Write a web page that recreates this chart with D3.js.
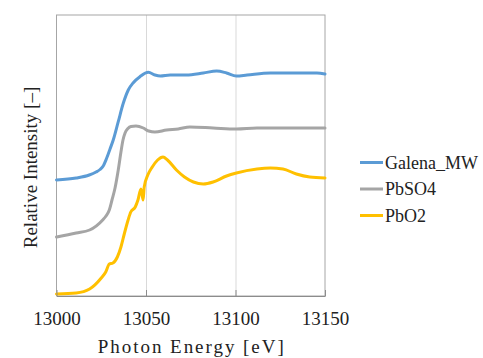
<!DOCTYPE html>
<html>
<head>
<meta charset="utf-8">
<script src="https://cdn.jsdelivr.net/npm/d3@7"></script>
<style>
  body { margin: 0; background: #fff; }
</style>
</head>
<body>
<svg id="chart" width="483" height="358"></svg>
<script>
// DATA (energy in eV, relative intensity arbitrary units)
var galenaEnergy = [13000, 13011, 13018.3, 13022.1, 13024.3, 13026.1, 13028, 13029.9, 13031.7, 13034.5, 13037.3, 13040.1, 13042.9, 13046.6, 13051.3, 13055, 13058, 13063.5, 13072.5, 13082, 13089.5, 13095, 13100.5, 13106.5, 13119.5, 13134, 13145.5, 13150];
var galenaIntensity = [1.16, 1.18, 1.21, 1.24, 1.265, 1.3, 1.377, 1.47, 1.56, 1.743, 1.927, 2.06, 2.133, 2.193, 2.237, 2.21, 2.2, 2.21, 2.21, 2.23, 2.25, 2.23, 2.2, 2.21, 2.23, 2.23, 2.23, 2.22];

var pbso4Energy = [13000, 13011, 13018.5, 13025.8, 13027.65, 13029.5, 13031, 13032.7, 13034.5, 13036, 13037.15, 13038.3, 13039.9, 13041.6, 13044.4, 13048.5, 13051.5, 13055, 13061.5, 13068, 13074.5, 13087.5, 13100.5, 13112, 13125, 13138, 13150];
var pbso4Intensity = [0.59, 0.63, 0.66, 0.76, 0.8, 0.86, 0.96, 1.08, 1.26, 1.44, 1.56, 1.63, 1.675, 1.695, 1.7, 1.68, 1.65, 1.64, 1.66, 1.67, 1.69, 1.68, 1.67, 1.68, 1.68, 1.68, 1.68];

var pbo2Energy = [13000, 13011, 13018.5, 13025, 13027.5, 13029.5, 13031.5, 13034, 13036, 13038, 13040, 13041.5, 13044, 13045.5, 13047.2, 13048.4, 13049, 13051, 13053.5, 13056.5, 13059.5, 13062, 13067, 13071.5, 13076.5, 13082, 13087.5, 13095, 13100.5, 13112, 13119.5, 13126.5, 13134, 13141.5, 13150];
var pbo2Intensity = [0.02, 0.03, 0.07, 0.18, 0.24, 0.32, 0.33, 0.39, 0.49, 0.63, 0.76, 0.84, 0.89, 0.96, 1.07, 0.96, 1.09, 1.21, 1.29, 1.36, 1.39, 1.36, 1.26, 1.19, 1.14, 1.12, 1.14, 1.2, 1.23, 1.27, 1.28, 1.27, 1.22, 1.19, 1.18];

var seriesNames = ["Galena_MW", "PbSO4", "PbO2"];
var seriesColors = ["#5b9bd5", "#a5a5a5", "#ffc000"];
var xTicks = [13000, 13050, 13100, 13150];

var serif = "'Liberation Serif', 'DejaVu Serif', serif";

var svg = d3.select("#chart");

// PLOT AREA
var plotLeft = 56.5, plotRight = 325, plotTop = 15, plotBottom = 296;

var x = d3.scaleLinear().domain([13000, 13150]).range([plotLeft, plotRight]);
var y = d3.scaleLinear().domain([0, 2.81]).range([plotBottom, plotTop]);

// GRIDLINES
svg.append("g")
    .attr("transform", "translate(0," + plotBottom + ")")
    .call(d3.axisBottom(x).tickValues([13050, 13100]).tickSize(-(plotBottom - plotTop)).tickFormat(""))
    .call(function (g) {
        g.select(".domain").remove();
        g.selectAll("line").attr("stroke", "#d9d9d9").attr("stroke-width", 1);
    });

// FRAME
svg.append("rect")
    .attr("x", plotLeft)
    .attr("y", plotTop)
    .attr("width", plotRight - plotLeft)
    .attr("height", plotBottom - plotTop)
    .attr("fill", "none")
    .attr("stroke", "#a6a6a6")
    .attr("stroke-width", 1);

// SERIES
var series = [
    { e: galenaEnergy, v: galenaIntensity },
    { e: pbso4Energy, v: pbso4Intensity },
    { e: pbo2Energy, v: pbo2Intensity }
];

var line = d3.line()
    .x(function (d) { return x(d[0]); })
    .y(function (d) { return y(d[1]); })
    .curve(d3.curveMonotoneX);

for (var i = 0; i < series.length; i++) {
    var pts = d3.zip(series[i].e, series[i].v);
    svg.append("path")
        .datum(pts)
        .attr("d", line)
        .attr("fill", "none")
        .attr("stroke", seriesColors[i])
        .attr("stroke-width", 3)
        .attr("stroke-linejoin", "round")
        .attr("stroke-linecap", "round");
}

// X AXIS
svg.append("g")
    .attr("transform", "translate(0," + plotBottom + ")")
    .call(d3.axisBottom(x).tickValues(xTicks).tickSizeInner(-6).tickSizeOuter(0).tickFormat(d3.format("d")))
    .call(function (g) {
        g.attr("font-family", null).attr("font-size", null);
        g.select(".domain").attr("stroke", "#8c8c8c").attr("stroke-width", 1.2);
        g.selectAll("line").attr("stroke", "#8c8c8c");
        g.selectAll("text")
            .attr("y", 29)
            .attr("dy", 0)
            .style("font-family", serif)
            .style("font-size", "19px")
            .attr("fill", "#222");
    });

// AXIS TITLES
svg.append("text")
    .attr("x", (plotLeft + plotRight) / 2)
    .attr("y", 353)
    .attr("text-anchor", "middle")
    .style("font-family", serif)
    .style("font-size", "19px")
    .attr("fill", "#222")
    .attr("textLength", 186)
    .attr("lengthAdjust", "spacing")
    .text("Photon Energy [eV]");

svg.append("text")
    .attr("transform", "translate(37,167.5) rotate(-90)")
    .attr("text-anchor", "middle")
    .style("font-family", serif)
    .style("font-size", "19px")
    .attr("fill", "#222")
    .text("Relative Intensity [–]");

// LEGEND
var legendY = [162.5, 189, 215.5];
for (var j = 0; j < seriesNames.length; j++) {
    svg.append("line")
        .attr("x1", 360)
        .attr("x2", 383)
        .attr("y1", legendY[j])
        .attr("y2", legendY[j])
        .attr("stroke", seriesColors[j])
        .attr("stroke-width", 3);
    svg.append("text")
        .attr("x", 385)
        .attr("y", legendY[j] + 6)
        .style("font-family", serif)
        .style("font-size", "18px")
        .attr("fill", "#222")
        .text(seriesNames[j]);
}
</script>
</body>
</html>
